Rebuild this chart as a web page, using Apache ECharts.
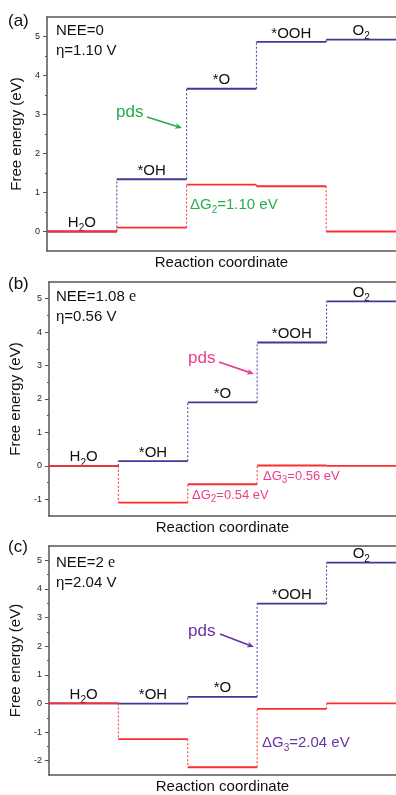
<!DOCTYPE html>
<html>
<head>
<meta charset="utf-8">
<script src="https://cdn.jsdelivr.net/npm/echarts@6/dist/echarts.min.js"></script>
<style>
  html, body { margin: 0; padding: 0; background: #fff; }
  #main { width: 396px; height: 795px; }
</style>
</head>
<body>
<div id="main"></div>
<script>
// reaction steps (x = step index, each level spans one unit)
var steps = [0, 1, 2, 3, 4]
var species = ['H{s|2}O', '*OH', '*O', '*OOH', 'O{s|2}']

// free energy levels (eV), blue = U=0 path, red = applied potential path
var blueA = [0, 1.34, 3.66, 4.86, 4.92]
var redA = [0, 0.10, 1.20, 1.16, 0]
var blueB = [0, 0.14, 1.90, 3.69, 4.92]
var redB = [0, -1.10, -0.55, 0.01, 0]
var blueC = [0, -0.01, 0.23, 3.49, 4.92]
var redC = [0, -1.25, -2.23, -0.19, 0]

// axis ranges and tick labels
var yMins = [-0.5, -1.5, -2.5]
var yMax = 5.5
var majorA = [0, 1, 2, 3, 4, 5]
var majorB = [-1, 0, 1, 2, 3, 4, 5]
var majorC = [-2, -1, 0, 1, 2, 3, 4, 5]
var minorA = [0.5, 1.5, 2.5, 3.5, 4.5]
var minorB = [-0.5, 0.5, 1.5, 2.5, 3.5, 4.5]
var minorC = [-1.5, -0.5, 0.5, 1.5, 2.5, 3.5, 4.5]

var BLUE = '#3d3a98'
var RED = '#fb2d2d'
var GREEN = '#23ae4a'
var PINK = '#ec3c8e'
var PURPLE = '#6a32a0'
var AXIS = '#555'
var FONT = '"Liberation Sans", Arial, sans-serif'

var chart = echarts.init(document.getElementById('main'))

var rich = {
  s: { fontSize: 10, fontFamily: FONT, verticalAlign: 'bottom', lineHeight: 12, padding: [0, 0, -3, 0] }
}

function levelRender(color, withNames) {
  return function (params, api) {
    var i = api.value(0)
    var v = api.value(1)
    var p = api.value(2)
    var a = api.coord([i, v])
    var b = api.coord([i + 1, v])
    var c = api.coord([i, p])
    var kids = [
      { type: 'line', shape: { x1: a[0], y1: a[1], x2: b[0], y2: b[1] },
        style: { stroke: color, lineWidth: 1.8 } },
      { type: 'line', shape: { x1: c[0], y1: c[1], x2: a[0], y2: a[1] },
        style: { stroke: color, lineWidth: 1, lineDash: [2, 2] } }
    ]
    if (withNames) {
      kids.push({
        type: 'text',
        x: (a[0] + b[0]) / 2,
        y: a[1] - 1,
        style: {
          text: species[api.value(3)],
          rich: rich,
          fontSize: 15,
          fontFamily: FONT,
          fill: '#111',
          align: 'center',
          verticalAlign: 'bottom'
        }
      })
    }
    return { type: 'group', children: kids }
  }
}

function levelSeries(vals, gi, color, withNames) {
  var data = []
  for (var k = 0; k < vals.length; k++) {
    data.push([steps[k], vals[k], k ? vals[k - 1] : vals[k], k])
  }
  return {
    type: 'custom',
    xAxisIndex: gi * 2,
    yAxisIndex: gi * 2,
    renderItem: levelRender(color, withNames),
    encode: { x: 0, y: 1 },
    data: data,
    z: withNames ? 2 : 4,
    clip: false,
    silent: true
  }
}

var grids = []
var xAxes = []
var yAxes = []
var tops = [17, 282, 546]
var majors = [majorA, majorB, majorC]
var minors = [minorA, minorB, minorC]
for (var g = 0; g < 3; g++) {
  grids.push({ left: 47, top: tops[g], width: 353, height: 234 })
  xAxes.push({
    type: 'value', gridIndex: g, min: 0, max: 5, position: 'bottom',
    name: 'Reaction coordinate', nameLocation: 'middle', nameGap: 4,
    nameTextStyle: { fontSize: 15, fontFamily: FONT, color: '#111', verticalAlign: 'top' },
    axisLine: { onZero: false, lineStyle: { color: AXIS, width: 1.5 } },
    axisTick: { show: false }, axisLabel: { show: false }, splitLine: { show: false }
  })
  xAxes.push({
    type: 'value', gridIndex: g, min: 0, max: 5, position: 'top',
    axisLine: { onZero: false, lineStyle: { color: AXIS, width: 1.5 } },
    axisTick: { show: false }, axisLabel: { show: false }, splitLine: { show: false }
  })
  yAxes.push({
    type: 'value', gridIndex: g, min: yMins[g], max: yMax, position: 'left',
    name: 'Free energy (eV)', nameLocation: 'middle', nameGap: 19, nameRotate: 90,
    nameTextStyle: { fontSize: 15, fontFamily: FONT, color: '#111' },
    axisLine: { onZero: false, lineStyle: { color: AXIS, width: 1.5 } },
    axisTick: { customValues: majors[g], length: 4, lineStyle: { color: AXIS, width: 1 } },
    axisLabel: { customValues: majors[g], margin: 7, fontSize: 9, fontFamily: FONT, color: '#222' },
    splitLine: { show: false }
  })
  yAxes.push({
    type: 'value', gridIndex: g, min: yMins[g], max: yMax, position: 'left',
    axisLine: { show: false, onZero: false },
    axisTick: { customValues: minors[g], length: 2, lineStyle: { color: AXIS, width: 1 } },
    axisLabel: { show: false }, splitLine: { show: false }
  })
}

function arrow(x1, y1, x2, y2, color) {
  var ang = Math.atan2(y2 - y1, x2 - x1)
  var L = 7, W = 3
  var bx = x2 - L * Math.cos(ang), by = y2 - L * Math.sin(ang)
  var px = -Math.sin(ang) * W, py = Math.cos(ang) * W
  return [
    { type: 'line', shape: { x1: x1, y1: y1, x2: bx + 2 * Math.cos(ang), y2: by + 2 * Math.sin(ang) },
      style: { stroke: color, lineWidth: 1.6 } },
    { type: 'polygon', shape: { points: [[x2, y2], [bx + px, by + py], [bx + 2 * Math.cos(ang), by + 2 * Math.sin(ang)], [bx - px, by - py]] },
      style: { fill: color } }
  ]
}

function txt(x, y, text, size, color, extra) {
  return {
    type: 'text', x: x, y: y,
    style: Object.assign({
      text: text, rich: rich, fontSize: size, fontFamily: FONT, fill: color,
      align: 'left', verticalAlign: 'middle'
    }, extra || {})
  }
}

var serifE = { e: { fontFamily: '"Liberation Serif", serif', fontSize: 16 } }

var graphics = [
  txt(8, 21, '(a)', 17, '#111'),
  txt(8, 284, '(b)', 17, '#111'),
  txt(8, 547, '(c)', 17, '#111'),
  txt(56, 31, 'NEE=0', 15, '#111'),
  txt(56, 51, 'η=1.10 V', 15, '#111'),
  txt(56, 297, 'NEE=1.08 {e|e}', 15, '#111', { rich: serifE }),
  txt(56, 317, 'η=0.56 V', 15, '#111'),
  txt(56, 563, 'NEE=2 {e|e}', 15, '#111', { rich: serifE }),
  txt(56, 583, 'η=2.04 V', 15, '#111'),
  txt(116, 112, 'pds', 17, GREEN),
  txt(188, 358, 'pds', 17, PINK),
  txt(188, 631, 'pds', 17, PURPLE),
  txt(190, 205, 'ΔG{s|2}=1.10 eV', 15, GREEN),
  txt(192, 495, 'ΔG{s|2}=0.54 eV', 13, PINK),
  txt(263, 476, 'ΔG{s|3}=0.56 eV', 13, PINK),
  txt(262, 743, 'ΔG{s|3}=2.04 eV', 15, PURPLE)
]
graphics = graphics
  .concat(arrow(147, 117, 182, 128, GREEN))
  .concat(arrow(219, 362, 254, 374, PINK))
  .concat(arrow(220, 634, 254, 647, PURPLE))

var option = {
  animation: false,
  backgroundColor: '#fff',
  grid: grids,
  xAxis: xAxes,
  yAxis: yAxes,
  graphic: graphics,
  series: [
    levelSeries(blueA, 0, BLUE, true),
    levelSeries(redA, 0, RED, false),
    levelSeries(blueB, 1, BLUE, true),
    levelSeries(redB, 1, RED, false),
    levelSeries(blueC, 2, BLUE, true),
    levelSeries(redC, 2, RED, false)
  ]
}
chart.setOption(option)
</script>
</body>
</html>
